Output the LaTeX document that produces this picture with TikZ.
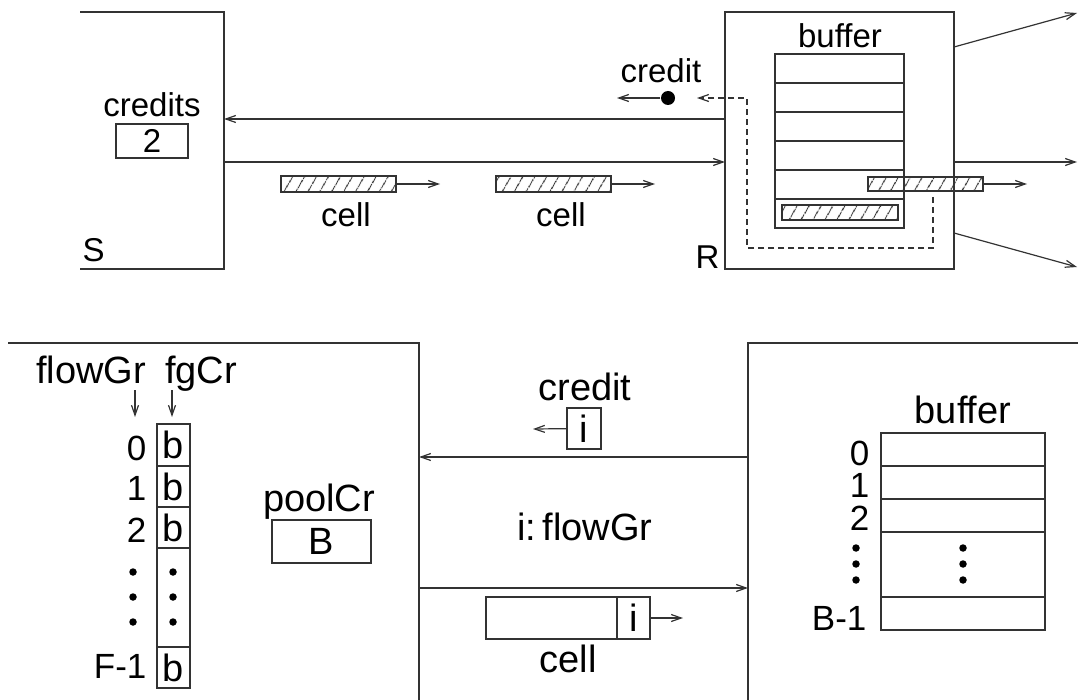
\documentclass[tikz,border=0pt]{standalone}
\usepackage{fontspec}
\setmainfont{Liberation Sans}
\usetikzlibrary{arrows.meta,patterns.meta}
\begin{document}
\begin{tikzpicture}[x=1pt,y=-1pt,
  line width=1.2pt, color=black!80,
  every node/.style={text=black},
  arr/.style={-{Straight Barb[length=10pt,width=7pt]}},
  box/.style={draw, inner sep=0pt, outer sep=0pt},
  hatch/.style={draw, inner sep=0pt, outer sep=0pt,
    pattern={Lines[angle=60,distance=10.5pt,line width=1.1pt]}, pattern color=black!80},
  tsmall/.style={font=\fontsize{33}{36}\selectfont},
  tbig/.style={font=\fontsize{38}{42}\selectfont},
  tidx/.style={font=\fontsize{35}{38}\selectfont, anchor=base east, inner sep=0pt},
  lbl/.style={anchor=base, inner sep=0pt},
  dot/.style={circle, fill=black, draw=none, inner sep=0pt, minimum size=7.5pt},
]
\useasboundingbox (0,0) rectangle (1078,700);

% ---------------- upper part: sender S and receiver R ----------------
% sender, open on its left side
\coordinate (Stl) at (80,12);
\coordinate (Str) at (224,12);
\coordinate (Sbr) at (224,269);
\coordinate (Sbl) at (80,269);
\draw (Stl) -- (Str) -- (Sbr) -- (Sbl);
\node[tsmall, lbl] (credlbl) at (152,117) {credits};
\node[tsmall, box, minimum width=72pt, minimum height=34pt] (cnt) at (152,141) {2};
\node[tsmall, anchor=base west, inner sep=0pt] (Slbl) at (82,262) {S};

% receiver
\node[box, minimum width=229pt, minimum height=257pt] (R) at (839.5,140.5) {};
\node[tsmall, anchor=base west, inner sep=0pt] (Rlbl) at (695,269) {R};

% links between S and R
\coordinate (Sin) at (224,119);
\coordinate (Sout) at (224,162);
\draw[arr] (R.west |- Sin) -- (Sin);
\draw[arr] (Sout) -- (R.west |- Sout);

% cells travelling on the link
\node[hatch, minimum width=115pt, minimum height=16pt] (c1) at (338.5,184) {};
\coordinate (c1t) at (440,184);
\draw[arr] (c1) -- (c1t);
\node[tsmall, lbl] (c1lbl) at (346,227) {cell};
\node[hatch, minimum width=115pt, minimum height=16pt] (c2) at (553.5,184) {};
\coordinate (c2t) at (655,184);
\draw[arr] (c2) -- (c2t);
\node[tsmall, lbl] (c2lbl) at (561,227) {cell};

% buffer inside R
\node[tsmall, lbl] (tbuflbl) at (840,48) {buffer};
\foreach \i/\y in {1/68.5, 2/97.5, 3/126.5, 4/155.5, 5/184.5, 6/213.5}
  \node[box, minimum width=129pt, minimum height=29pt] (tb\i) at (839.5,\y) {};
\node[hatch, minimum width=116pt, minimum height=15pt] (bc) at (840,212.5) {};

% cell leaving the buffer
\node[hatch, minimum width=115pt, minimum height=14pt] (mc) at (925.5,184) {};
\coordinate (mct) at (1027,184);
\draw[arr] (mc) -- (mct);

% credit returned to the sender
\coordinate (d0) at (933,197);
\coordinate (d1) at (747,248);
\coordinate (d2) at (697,98);
\draw[arr, dash pattern=on 6pt off 4pt] (d0) |- (d1) |- (d2);
\node[dot, minimum size=14pt] (cdot) at (668,98) {};
\coordinate (cl) at (617,98);
\draw[arr] (cdot) -- (cl);
\node[tsmall, lbl] (credit1) at (661,83) {credit};

% output links of R
\coordinate (o1s) at (954,47);
\coordinate (o1) at (1077,13);
\coordinate (o2s) at (954,162);
\coordinate (o2) at (1077,162);
\coordinate (o3s) at (954,233);
\coordinate (o3) at (1077,267);
\draw[arr] (o1s) -- (o1);
\draw[arr] (o2s) -- (o2);
\draw[arr] (o3s) -- (o3);

% ---------------- lower part: credit pools ----------------
\coordinate (Ltl) at (8,343);
\coordinate (Ltr) at (419,343);
\coordinate (Lbr) at (419,700);
\draw (Ltl) -- (Ltr) -- (Lbr);
\coordinate (Rbl) at (748,700);
\coordinate (Rtl) at (748,343);
\coordinate (Rtr) at (1078,343);
\draw (Rbl) -- (Rtl) -- (Rtr);

% per-flow-group credit table
\node[tbig, lbl] (fglbl) at (91,383) {flowGr};
\node[tbig, lbl] (fgclbl) at (201,383) {fgCr};
\coordinate (a1s) at (135,390);
\coordinate (a1e) at (135,417);
\coordinate (a2s) at (172,390);
\coordinate (a2e) at (172,417);
\draw[arr] (a1s) -- (a1e);
\draw[arr] (a2s) -- (a2e);

\node[tbig, box, minimum width=33pt, minimum height=42pt] (f0) at (173.5,445) {b};
\node[tbig, box, minimum width=33pt, minimum height=41pt] (f1) at (173.5,486.5) {b};
\node[tbig, box, minimum width=33pt, minimum height=41pt] (f2) at (173.5,527.5) {b};
\node[box, minimum width=33pt, minimum height=99pt] (fd) at (173.5,597.5) {};
\node[tbig, box, minimum width=33pt, minimum height=41pt] (fl) at (173.5,667.5) {b};
\node[tidx] (n0) at (147,460) {0};
\node[tidx] (n1) at (147,500) {1};
\node[tidx] (n2) at (147,542) {2};
\node[tidx] (nl) at (147,678) {F-1};
\foreach \y [count=\k] in {572,597,622} {
  \node[dot] (ld\k) at (133,\y) {};
  \node[dot] (rd\k) at (173,\y) {};
}

% shared pool
\node[tbig, lbl] (poollbl) at (319,511) {poolCr};
\node[tbig, box, minimum width=99pt, minimum height=43pt] (pool) at (321.5,541.5) {B};

% link
\node[tbig, lbl] (credit2) at (585,400) {credit};
\node[tbig, box, minimum width=34pt, minimum height=41pt] (ci) at (584,428.5) {i};
\coordinate (cit) at (533,429);
\draw[arr] (ci) -- (cit);
\coordinate (crs) at (748,457);
\coordinate (cre) at (419,457);
\draw[arr] (crs) -- (cre);
\node[tbig, lbl] (ifg) at (585,540) {i:\,flowGr};
\coordinate (cls) at (419,588);
\coordinate (cle) at (748,588);
\draw[arr] (cls) -- (cle);
\node[box, minimum width=131pt, minimum height=42pt] (cb) at (551.5,618) {};
\node[tbig, box, minimum width=33pt, minimum height=42pt] (cbi) at (633.5,618) {i};
\coordinate (cbt) at (683,618);
\draw[arr] (cbi) -- (cbt);
\node[tbig, lbl] (cell3) at (568,672) {cell};

% receiver buffer
\node[tbig, lbl] (bbuflbl) at (963,423) {buffer};
\node[box, minimum width=164pt, minimum height=33pt] (r0) at (963,449.5) {};
\node[box, minimum width=164pt, minimum height=33pt] (r1) at (963,482.5) {};
\node[box, minimum width=164pt, minimum height=33pt] (r2) at (963,515.5) {};
\node[box, minimum width=164pt, minimum height=65pt] (rd) at (963,564.5) {};
\node[box, minimum width=164pt, minimum height=33pt] (rl) at (963,613.5) {};
\node[tidx] (m0) at (870,465) {0};
\node[tidx] (m1) at (870,497) {1};
\node[tidx] (m2) at (870,530) {2};
\node[tidx] (ml) at (867,630) {B-1};
\foreach \y [count=\k] in {548,564,580} {
  \node[dot] (bl\k) at (856,\y) {};
  \node[dot] (br\k) at (963,\y) {};
}
\end{tikzpicture}
\end{document}
